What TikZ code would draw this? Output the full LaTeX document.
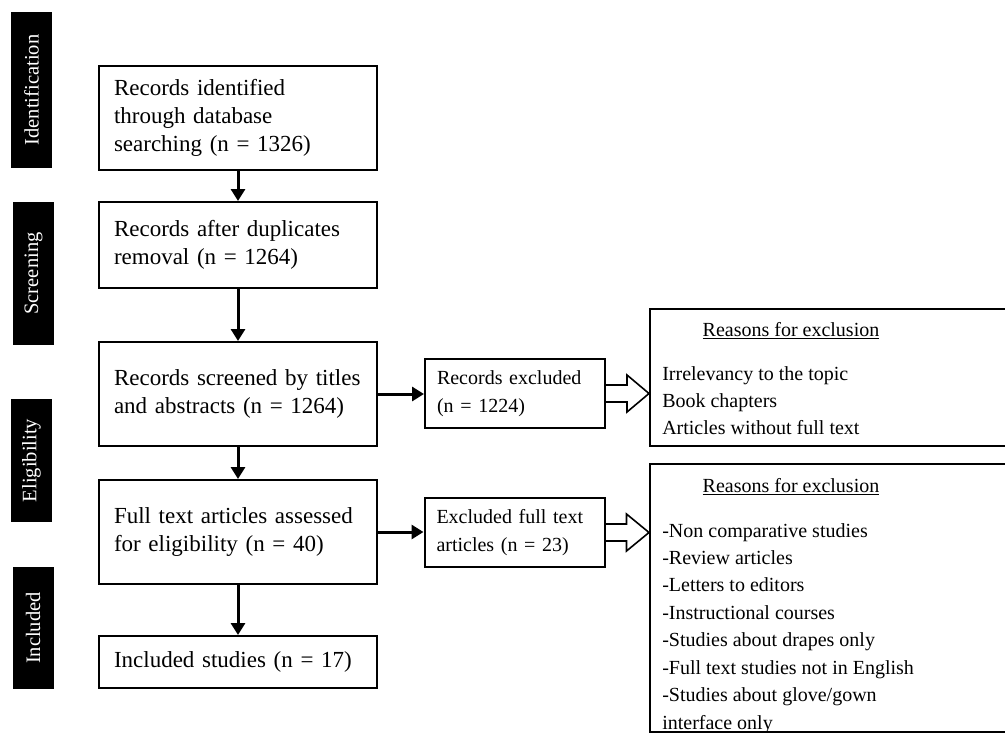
\documentclass[tikz,border=0pt]{standalone}
\usepackage{fontspec}
\setmainfont{Liberation Serif}
\usetikzlibrary{arrows.meta,calc}
\begin{document}
\begin{tikzpicture}[x=0.75pt,y=-0.75pt,
  stage/.style={fill=black,text=white,rotate=90,inner sep=0pt,minimum height=30.75pt,font=\fontsize{15.4}{18}\selectfont},
  mainbox/.style={draw,line width=1.5pt,minimum width=208.5pt,inner xsep=11.25pt,text width=186pt,align=left,font=\fontsize{17.25}{21}\selectfont},
  sidebox/.style={draw,line width=1.5pt,minimum width=135pt,minimum height=51.75pt,inner xsep=9pt,text width=117pt,align=left,font=\fontsize{15}{20.6}\selectfont},
  reasonbox/.style={draw,line width=1.5pt,anchor=north west,minimum width=278.25pt,inner sep=0pt},
  rtext/.style={anchor=base west,inner sep=0pt,font=\fontsize{15}{20.6}\selectfont},
  flow/.style={line width=2.25pt,-{Triangle[length=9pt,width=10.5pt]}},
  hollow/.style={draw,line width=1.2pt,line join=miter}]
\useasboundingbox (0,0) rectangle (1005,732);
\clip (0,0) rectangle (1005,732);

% stage bars
\node[stage,minimum width=117pt] (s1) at (31.5,90) {Identification};
\node[stage,minimum width=107.25pt] (s2) at (33.5,273.5) {Screening};
\node[stage,minimum width=92.25pt] (s3) at (31.5,460.5) {Eligibility};
\node[stage,minimum width=91.5pt] (s4) at (33,628) {Included};

% main flow
\node[mainbox,minimum height=78pt] (b1) at (238,118) {Records identified\\through database\\searching (n = 1326)};
\node[mainbox,minimum height=64.5pt] (b2) at (238,245) {Records after duplicates\\removal (n = 1264)};
\node[mainbox,minimum height=78pt] (b3) at (238,394) {Records screened by titles\\and abstracts (n = 1264)};
\node[mainbox,minimum height=78pt] (b4) at (238,532) {Full text articles assessed\\for eligibility (n = 40)};
\node[mainbox,minimum height=39pt] (b5) at (238,662) {Included studies (n = 17)};

% exclusion boxes
\node[sidebox] (ex1) at (515,393.5) {Records excluded\\(n = 1224)};
\node[sidebox] (ex2) at (514.5,532.5) {Excluded full text\\articles (n = 23)};

% reasons boxes
\node[reasonbox,minimum height=102.75pt] (r1) at (649,308) {};
\node[reasonbox,minimum height=201pt] (r2) at (649,463) {};
\node[rtext,anchor=base] (r1t) at (791,336) {\underline{Reasons for exclusion}};
\node[rtext] (r1l) at (662,380) {\begin{tabular}[t]{@{}l@{}}Irrelevancy to the topic\\Book chapters\\Articles without full text\end{tabular}};
\node[rtext,anchor=base] (r2t) at (791,492) {\underline{Reasons for exclusion}};
\node[rtext] (r2l) at (662,537) {\begin{tabular}[t]{@{}l@{}}-Non comparative studies\\-Review articles\\-Letters to editors\\-Instructional courses\\-Studies about drapes only\\-Full text studies not in English\\-Studies about glove/gown\\interface only\end{tabular}};

% arrows
\draw[flow] (b1) -- (b2);
\draw[flow] (b2) -- (b3);
\draw[flow] (b3) -- (b4);
\draw[flow] (b4) -- (b5);
\draw[flow] (b3.east) -- (b3.east -| ex1.west);
\draw[flow] (b4.east) -- (b4.east -| ex2.west);

% hollow block arrows
\draw[hollow] ($(ex1.east)+(0,-8.5)$) -- ++(21,0) -- ++(0,-10) -- (r1.west |- ex1.east)
  -- ($(ex1.east)+(21,18.5)$) -- ++(0,-10) -- ($(ex1.east)+(0,8.5)$);
\draw[hollow] ($(ex2.east)+(0,-8.5)$) -- ++(21,0) -- ++(0,-10) -- (r2.west |- ex2.east)
  -- ($(ex2.east)+(21,18.5)$) -- ++(0,-10) -- ($(ex2.east)+(0,8.5)$);
\end{tikzpicture}
\end{document}
